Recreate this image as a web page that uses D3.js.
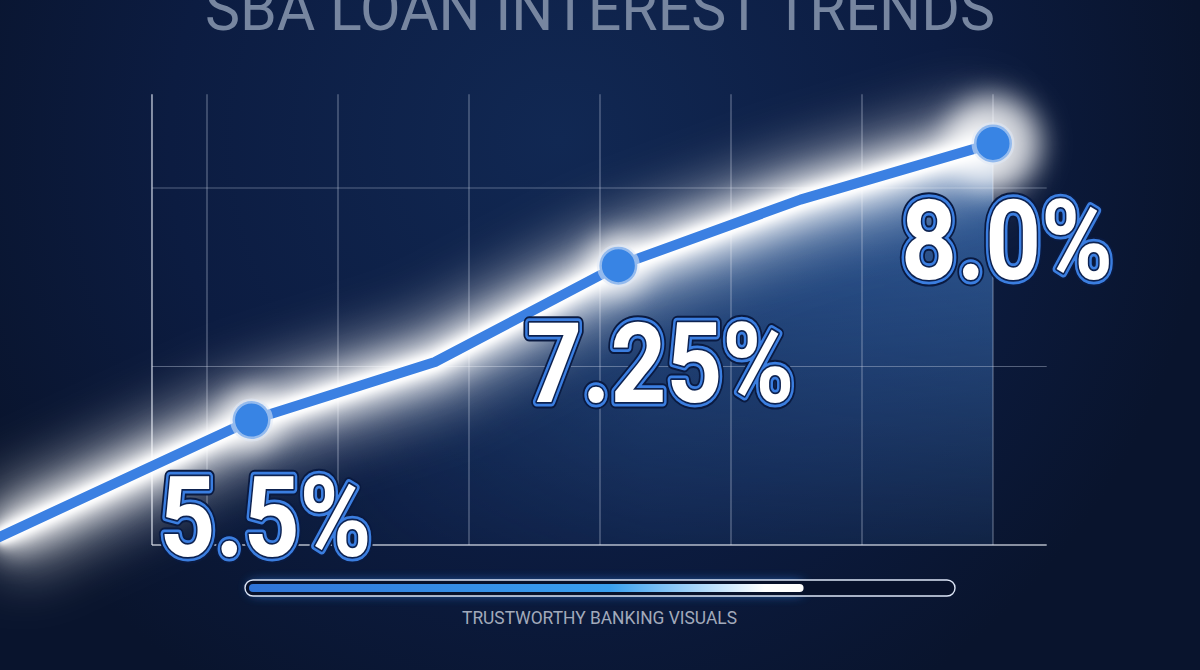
<!DOCTYPE html>
<html>
<head>
<meta charset="utf-8">
<script src="https://cdn.jsdelivr.net/npm/d3@7"></script>
<style>
html, body { margin:0; padding:0; background:#0a1530; overflow:hidden; }
</style>
</head>
<body>
<div id="chart"></div>
<script>
//  Data  //
var titleText = "SBA LOAN INTEREST TRENDS";
var footerText = "TRUSTWORTHY BANKING VISUALS";
var periods = [-1.6, 0.34, 1.74, 3.14, 4.53, 6.0];      // x position in grid columns
var rates = [4.08, 5.40, 6.05, 7.13, 7.87, 8.50];        // plotted level (%)
var highlightIdx = [1, 3, 5];
var highlightLabels = ["5.5%", "7.25%", "8.0%"];
var xGridTicks = [0, 1, 2, 3, 4, 5, 6];
var yGridTicks = [6, 8];
var progress = 0.79;

var width = 1200, height = 670;
var svg = d3.select("#chart").append("svg").attr("width", width).attr("height", height);
var defs = svg.append("defs");

//  Scales  //
var scaleX = d3.scaleLinear().domain([0, 6]).range([207, 993]);
var scaleY = d3.scaleLinear().domain([4, 8]).range([545, 188]);
var xLeft = -0.42, xRight = 6.41, yTop = 9.05;

//  Gradients and filters  //
var bg = defs.append("radialGradient").attr("id", "bg").attr("gradientUnits", "userSpaceOnUse")
    .attr("cx", 560).attr("cy", 140).attr("r", 650);
bg.append("stop").attr("offset", "0%").attr("stop-color", "#112853");
bg.append("stop").attr("offset", "60%").attr("stop-color", "#0c1c41");
bg.append("stop").attr("offset", "100%").attr("stop-color", "#09142d");

var areaGrad = defs.append("linearGradient").attr("id", "areaGrad").attr("gradientUnits", "userSpaceOnUse")
    .attr("x1", 0).attr("x2", scaleX(6)).attr("y1", 0).attr("y2", 0);
areaGrad.append("stop").attr("offset", "0%").attr("stop-color", "#4a8ada").attr("stop-opacity", 0);
areaGrad.append("stop").attr("offset", "35%").attr("stop-color", "#4a8ada").attr("stop-opacity", 0.1);
areaGrad.append("stop").attr("offset", "65%").attr("stop-color", "#4a8ada").attr("stop-opacity", 0.45);
areaGrad.append("stop").attr("offset", "100%").attr("stop-color", "#4a8ada").attr("stop-opacity", 0.58);

var fadeGrad = defs.append("linearGradient").attr("id", "fadeGrad").attr("gradientUnits", "userSpaceOnUse")
    .attr("x1", 0).attr("x2", 0).attr("y1", 180).attr("y2", 545);
fadeGrad.append("stop").attr("offset", "0%").attr("stop-color", "#fff");
fadeGrad.append("stop").attr("offset", "100%").attr("stop-color", "#333");
defs.append("mask").attr("id", "fadeMask").attr("maskUnits", "userSpaceOnUse")
    .attr("x", 0).attr("y", 0).attr("width", width).attr("height", height)
    .append("rect").attr("width", width).attr("height", height).attr("fill", "url(#fadeGrad)");

function blur(id, sd) {
    defs.append("filter").attr("id", id).attr("filterUnits", "userSpaceOnUse")
        .attr("x", -200).attr("y", -200).attr("width", 1600).attr("height", 1070)
        .append("feGaussianBlur").attr("stdDeviation", sd);
}
blur("glowHuge", 28);
blur("glowWide", 14);
blur("glowMid", 6);
blur("glowSmall", 2.5);

var barGrad = defs.append("linearGradient").attr("id", "barGrad");
barGrad.append("stop").attr("offset", "0%").attr("stop-color", "#2f74d8");
barGrad.append("stop").attr("offset", "65%").attr("stop-color", "#39a0f0");
barGrad.append("stop").attr("offset", "93%").attr("stop-color", "#ffffff");
barGrad.append("stop").attr("offset", "100%").attr("stop-color", "#ffffff");

//  Background  //
svg.append("rect").attr("width", width).attr("height", height).attr("fill", "url(#bg)");

//  Title  //
svg.append("text").attr("x", 205).attr("y", 30)
    .attr("font-family", "Roboto, 'Liberation Sans', sans-serif").attr("font-size", 62)
    .attr("textLength", 790).attr("lengthAdjust", "spacingAndGlyphs")
    .attr("fill", "#7786a0").text(titleText);

//  Area  //
var data = periods.map(function(p, i){ return {x: p, y: rates[i]}; });
var area = d3.area().x(function(d){ return scaleX(d.x); }).y0(scaleY(4)).y1(function(d){ return scaleY(d.y); });
svg.append("path").datum(data).attr("d", area).attr("fill", "url(#areaGrad)").attr("mask", "url(#fadeMask)");

//  Grid  //
var grid = svg.append("g");
grid.selectAll(".vgrid").data(xGridTicks).enter().append("line")
    .attr("x1", function(d){ return scaleX(d); }).attr("x2", function(d){ return scaleX(d); })
    .attr("y1", scaleY(yTop)).attr("y2", scaleY(4))
    .attr("stroke", "#c4cde0").attr("stroke-opacity", 0.45).attr("stroke-width", 1.2);
grid.selectAll(".hgrid").data(yGridTicks).enter().append("line")
    .attr("x1", scaleX(xLeft)).attr("x2", scaleX(xRight))
    .attr("y1", function(d){ return scaleY(d); }).attr("y2", function(d){ return scaleY(d); })
    .attr("stroke", "#c4cde0").attr("stroke-opacity", 0.4).attr("stroke-width", 1.2);
grid.append("line").attr("x1", scaleX(xLeft)).attr("x2", scaleX(xLeft))
    .attr("y1", scaleY(yTop)).attr("y2", scaleY(4)).attr("stroke", "#d6dcea").attr("stroke-opacity", 0.75).attr("stroke-width", 1.6);
grid.append("line").attr("x1", scaleX(xLeft)).attr("x2", scaleX(xRight))
    .attr("y1", scaleY(4)).attr("y2", scaleY(4)).attr("stroke", "#dfe4ee").attr("stroke-opacity", 0.8).attr("stroke-width", 1.6);

//  Line with glow  //
var line = d3.line().x(function(d){ return scaleX(d.x); }).y(function(d){ return scaleY(d.y); });
svg.append("path").datum(data).attr("d", line).attr("fill", "none").attr("stroke", "#ffffff")
    .attr("stroke-width", 80).attr("stroke-opacity", 0.55).attr("filter", "url(#glowHuge)");
svg.append("path").datum(data).attr("d", line).attr("fill", "none").attr("stroke", "#ffffff")
    .attr("stroke-width", 40).attr("stroke-opacity", 0.8).attr("filter", "url(#glowWide)");
svg.append("path").datum(data).attr("d", line).attr("fill", "none").attr("stroke", "#ffffff")
    .attr("stroke-width", 22).attr("filter", "url(#glowMid)");
svg.append("path").datum(data).attr("d", line).attr("fill", "none").attr("stroke", "#ffffff")
    .attr("stroke-width", 15).attr("filter", "url(#glowSmall)");

var hl = highlightIdx.map(function(i, k){ return {x: periods[i], y: rates[i], label: highlightLabels[k]}; });
svg.selectAll(".halo").data(hl).enter().append("circle")
    .attr("cx", function(d){ return scaleX(d.x); }).attr("cy", function(d){ return scaleY(d.y); })
    .attr("r", function(d, i){ return i == hl.length - 1 ? 48 : 28; })
    .attr("fill", "#ffffff").attr("fill-opacity", 0.8).attr("filter", "url(#glowWide)");

svg.append("path").datum(data).attr("d", line).attr("fill", "none").attr("stroke", "#3b80e2")
    .attr("stroke-width", 10).attr("stroke-linejoin", "round");

//  Points  //
svg.selectAll(".point").data(hl).enter().append("circle")
    .attr("cx", function(d){ return scaleX(d.x); }).attr("cy", function(d){ return scaleY(d.y); })
    .attr("r", 19).attr("fill", "#3884e4")
    .attr("stroke", "#dfe7f5").attr("stroke-opacity", 0.55).attr("stroke-width", 5);

//  Labels  //
var labelFont = "Roboto, 'Liberation Sans', Arial, sans-serif";
function addLabels(stroke, sw, fill) {
    svg.selectAll(null).data(hl).enter().append("text")
        .attr("x", function(d){ return scaleX(d.x) - 92; })
        .attr("y", function(d){ return scaleY(d.y) + 136; })
        .attr("font-family", labelFont).attr("font-weight", 700).attr("font-size", 112)
        .attr("fill", fill).attr("stroke", stroke).attr("stroke-width", sw)
        .attr("stroke-linejoin", "round")
        .text(function(d){ return d.label; })
        .each(function(){ var w = this.getComputedTextLength(); d3.select(this).attr("textLength", w*0.87).attr("lengthAdjust", "spacingAndGlyphs"); });
}
addLabels("#0a1a40", 13, "#0a1a40");
addLabels("#3b7ee0", 9, "#3b7ee0");
addLabels("#0d2250", 3.5, "#0d2250");
addLabels("none", 0, "#ffffff");

//  Progress bar  //
var barX = d3.scaleLinear().domain([0, 1]).range([249, 951]);
svg.append("rect").attr("x", barX(0)).attr("y", 582).attr("width", barX(progress) - barX(0)).attr("height", 12)
    .attr("rx", 6).attr("fill", "#2f86f0").attr("opacity", 0.8).attr("filter", "url(#glowMid)");
svg.append("rect").attr("x", 245).attr("y", 580).attr("width", 710).attr("height", 16).attr("rx", 8)
    .attr("fill", "#07112a").attr("stroke", "#dde6f7").attr("stroke-width", 1.4);
svg.append("rect").attr("x", barX(0)).attr("y", 584).attr("width", barX(progress) - barX(0)).attr("height", 8)
    .attr("rx", 4).attr("fill", "url(#barGrad)");

//  Footer  //
svg.append("text").attr("x", 462).attr("y", 624)
    .attr("font-family", "Roboto, 'Liberation Sans', sans-serif").attr("font-size", 19)
    .attr("textLength", 275).attr("lengthAdjust", "spacingAndGlyphs")
    .attr("fill", "#a2aabb").text(footerText);
</script>
</body>
</html>
